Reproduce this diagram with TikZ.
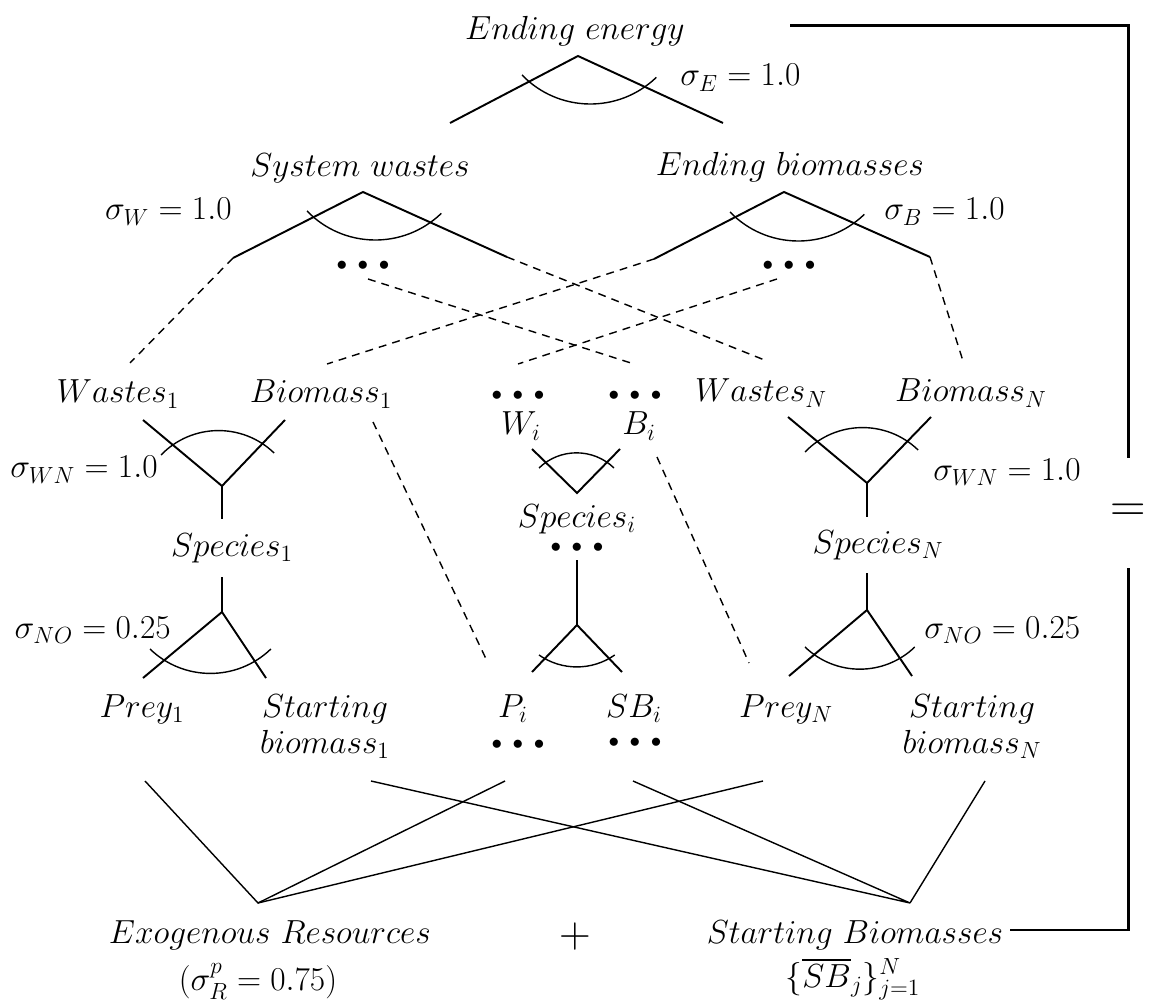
\RequirePackage{fix-cm}
\documentclass[tikz,border=0pt]{standalone}
\usepackage{amsmath}
\usepackage{tikz}

\begin{document}
\begin{tikzpicture}[
    x=0.02cm, y=-0.02cm,
    lbl/.style={inner sep=0pt, font=\fontsize{19}{20.5}\selectfont},
    dotrow/.style={inner sep=0pt, font=\fontsize{12}{12}\selectfont},
    nest/.style={line width=1.1pt},
    elas/.style={line width=0.8pt},
    stem/.style={line width=1.5pt},
    link/.style={dash pattern=on 4.5pt off 3.5pt, line width=0.8pt},
    feed/.style={line width=0.8pt},
    brk/.style={line width=1.7pt},
]
\useasboundingbox (0,0) rectangle (1149,1006);

% Top nest
\node[lbl, anchor=base] (ee) at (575,40) {$Ending\ energy$};
\node[lbl, anchor=base west] (sigE) at (680,86) {$\sigma_E = 1.0$};
\coordinate (eA) at (578,56);
\coordinate (eL) at (450,123);
\coordinate (eR) at (723,123);
\draw[nest] (eL) -- (eA) -- (eR);
\draw[elas] (522,75) arc[start angle=136, end angle=46, radius=95];

% Second level
\node[lbl, anchor=base] (sw) at (360,177) {$System\ wastes$};
\node[lbl, anchor=base east] (sigW) at (232,220) {$\sigma_W = 1.0$};
\node[lbl, anchor=base] (eb) at (790,176) {$Ending\ biomasses$};
\node[lbl, anchor=base west] (sigB) at (884,220) {$\sigma_B = 1.0$};
\node[dotrow] (swDots) at (363,266) {$\bullet\;\bullet\;\bullet$};
\node[dotrow] (ebDots) at (789,266) {$\bullet\;\bullet\;\bullet$};
\coordinate (swA) at (363,192);
\coordinate (swL) at (233,258);
\coordinate (swR) at (507,257);
\coordinate (ebA) at (784,192);
\coordinate (ebL) at (654,259);
\coordinate (ebR) at (930,257);
\draw[nest] (swL) -- (swA) -- (swR);
\draw[elas] (307,211) arc[start angle=136, end angle=46, radius=95];
\draw[nest] (ebL) -- (ebA) -- (ebR);
\draw[elas] (730,212) arc[start angle=136, end angle=46, radius=95];

% Wastes and biomasses per species
\node[lbl, anchor=base] (w1) at (118,403) {$Wastes_1$};
\node[lbl, anchor=base] (b1) at (321,403) {$Biomass_1$};
\node[dotrow] (wiDots) at (518,396) {$\bullet\;\bullet\;\bullet$};
\node[dotrow] (biDots) at (635,396) {$\bullet\;\bullet\;\bullet$};
\node[lbl, anchor=base] (wi) at (521,435) {$W_i$};
\node[lbl, anchor=base] (bi) at (639,435) {$B_i$};
\node[lbl, anchor=base] (wn) at (761,402) {$Wastes_N$};
\node[lbl, anchor=base] (bn) at (971,402) {$Biomass_N$};
\node[lbl, anchor=base east] (sigWNa) at (158,478) {$\sigma_{WN} = 1.0$};
\node[lbl, anchor=base west] (sigWNb) at (933,480) {$\sigma_{WN} = 1.0$};

\coordinate (w1Top) at (130,363);
\coordinate (b1Top) at (327,364);
\coordinate (wiTop) at (518,364);
\coordinate (biTop) at (634,364);
\coordinate (wnTop) at (767,361);
\coordinate (bnTop) at (963,361);
\coordinate (swDotsOut) at (368,279);
\coordinate (ebDotsOut) at (777,279);
\draw[link] (swL) -- (w1Top);
\draw[link] (swDotsOut) -- (biTop);
\draw[link] (swR) -- (wnTop);
\draw[link] (ebL) -- (b1Top);
\draw[link] (ebDotsOut) -- (wiTop);
\draw[link] (ebR) -- (bnTop);

% Species nests
\node[lbl, anchor=base] (s1) at (232,556) {$Species_1$};
\node[lbl, anchor=base] (si) at (577,527) {$Species_i$};
\node[dotrow] (siDots) at (577,548) {$\bullet\;\bullet\;\bullet$};
\node[lbl, anchor=base] (sn) at (878,553) {$Species_N$};

\coordinate (y1L) at (143,420);
\coordinate (y1R) at (285,420);
\coordinate (y1J) at (222,486);
\coordinate (y1S) at (222,519);
\draw[nest] (y1L) -- (y1J) -- (y1R);
\draw[stem] (y1J) -- (y1S);
\draw[elas] (161,455) arc[start angle=-136, end angle=-46, radius=80];

\coordinate (yiL) at (532,449);
\coordinate (yiR) at (620,449);
\coordinate (yiJ) at (577,493);
\draw[nest] (yiL) -- (yiJ) -- (yiR);
\draw[elas] (539,468) arc[start angle=-134, end angle=-46, radius=54];

\coordinate (ynL) at (788,417);
\coordinate (ynR) at (931,417);
\coordinate (ynJ) at (867,483);
\coordinate (ynS) at (867,517);
\draw[nest] (ynL) -- (ynJ) -- (ynR);
\draw[stem] (ynJ) -- (ynS);
\draw[elas] (805,452) arc[start angle=-136, end angle=-46, radius=80];

% Prey and starting biomass per species
\node[lbl, anchor=base east] (sigNOa) at (171,638) {$\sigma_{NO} = 0.25$};
\node[lbl, anchor=base west] (sigNOb) at (924,638) {$\sigma_{NO} = 0.25$};
\node[lbl, anchor=base] (p1) at (142,717) {$Prey_1$};
\node[lbl, anchor=north, align=center] (sb1) at (325,694) {$Starting$\\$biomass_1$};
\node[lbl, anchor=base] (pi) at (513,717) {$P_i$};
\node[dotrow] (piDots) at (518,745) {$\bullet\;\bullet\;\bullet$};
\node[lbl, anchor=base] (sbi) at (634,717) {$SB_i$};
\node[dotrow] (sbiDots) at (635,743) {$\bullet\;\bullet\;\bullet$};
\node[lbl, anchor=base] (pn) at (786,717) {$Prey_N$};
\node[lbl, anchor=north, align=center] (sbn) at (972,694) {$Starting$\\$biomass_N$};

\coordinate (l1T) at (222,577);
\coordinate (l1A) at (222,612);
\coordinate (l1L) at (143,678);
\coordinate (l1R) at (266,678);
\draw[stem] (l1T) -- (l1A);
\draw[nest] (l1L) -- (l1A) -- (l1R);
\draw[elas] (150,649) arc[start angle=134, end angle=46, radius=87];

\coordinate (liT) at (577,560);
\coordinate (liA) at (577,625);
\coordinate (liL) at (532,672);
\coordinate (liR) at (622,672);
\draw[stem] (liT) -- (liA);
\draw[nest] (liL) -- (liA) -- (liR);
\draw[elas] (539,655) arc[start angle=125, end angle=55, radius=66];

\coordinate (lnT) at (867,573);
\coordinate (lnA) at (867,610);
\coordinate (lnL) at (789,676);
\coordinate (lnR) at (912,676);
\draw[stem] (lnT) -- (lnA);
\draw[nest] (lnL) -- (lnA) -- (lnR);
\draw[elas] (805,647) arc[start angle=134, end angle=46, radius=79];

% Biomass to prey
\coordinate (b1Out) at (373,422);
\coordinate (biOut) at (657,457);
\coordinate (piTop) at (488,663);
\coordinate (pnTop) at (749,663);
\draw[link] (b1Out) -- (piTop);
\draw[link] (biOut) -- (pnTop);

% Resources and starting biomasses
\node[lbl, anchor=base] (exo) at (270,943) {$Exogenous\ Resources$};
\node[lbl, anchor=base] (exoSig) at (258,990) {$(\sigma_R^p = 0.75)$};
\node[lbl, font=\fontsize{25}{25}\selectfont] (plus) at (575,937) {$+$};
\node[lbl, anchor=base] (sbs) at (855,943) {$Starting\ Biomasses$};
\node[lbl, anchor=base] (sbsSet) at (853,987) {$\{\overline{SB}_j\}^{N}_{j=1}$};

\coordinate (exA) at (258,903);
\coordinate (p1Bot) at (145,781);
\coordinate (piBot) at (505,781);
\coordinate (pnBot) at (763,781);
\coordinate (sbA) at (910,903);
\coordinate (sb1Bot) at (371,781);
\coordinate (sbiBot) at (633,781);
\coordinate (sbnBot) at (985,781);
\draw[feed] (p1Bot) -- (exA) -- (piBot);
\draw[feed] (exA) -- (pnBot);
\draw[feed] (sb1Bot) -- (sbA) -- (sbiBot);
\draw[feed] (sbA) -- (sbnBot);

% Balance bracket
\node[lbl, font=\fontsize{28}{28}\selectfont, minimum height=2.2cm] (eq) at (1128,513) {$=$};
\coordinate (brA) at (790,26);
\coordinate (brB) at (1010,930);
\draw[brk] (brA) -| (eq.north);
\draw[brk] (brB) -| (eq.south);

\end{tikzpicture}
\end{document}
